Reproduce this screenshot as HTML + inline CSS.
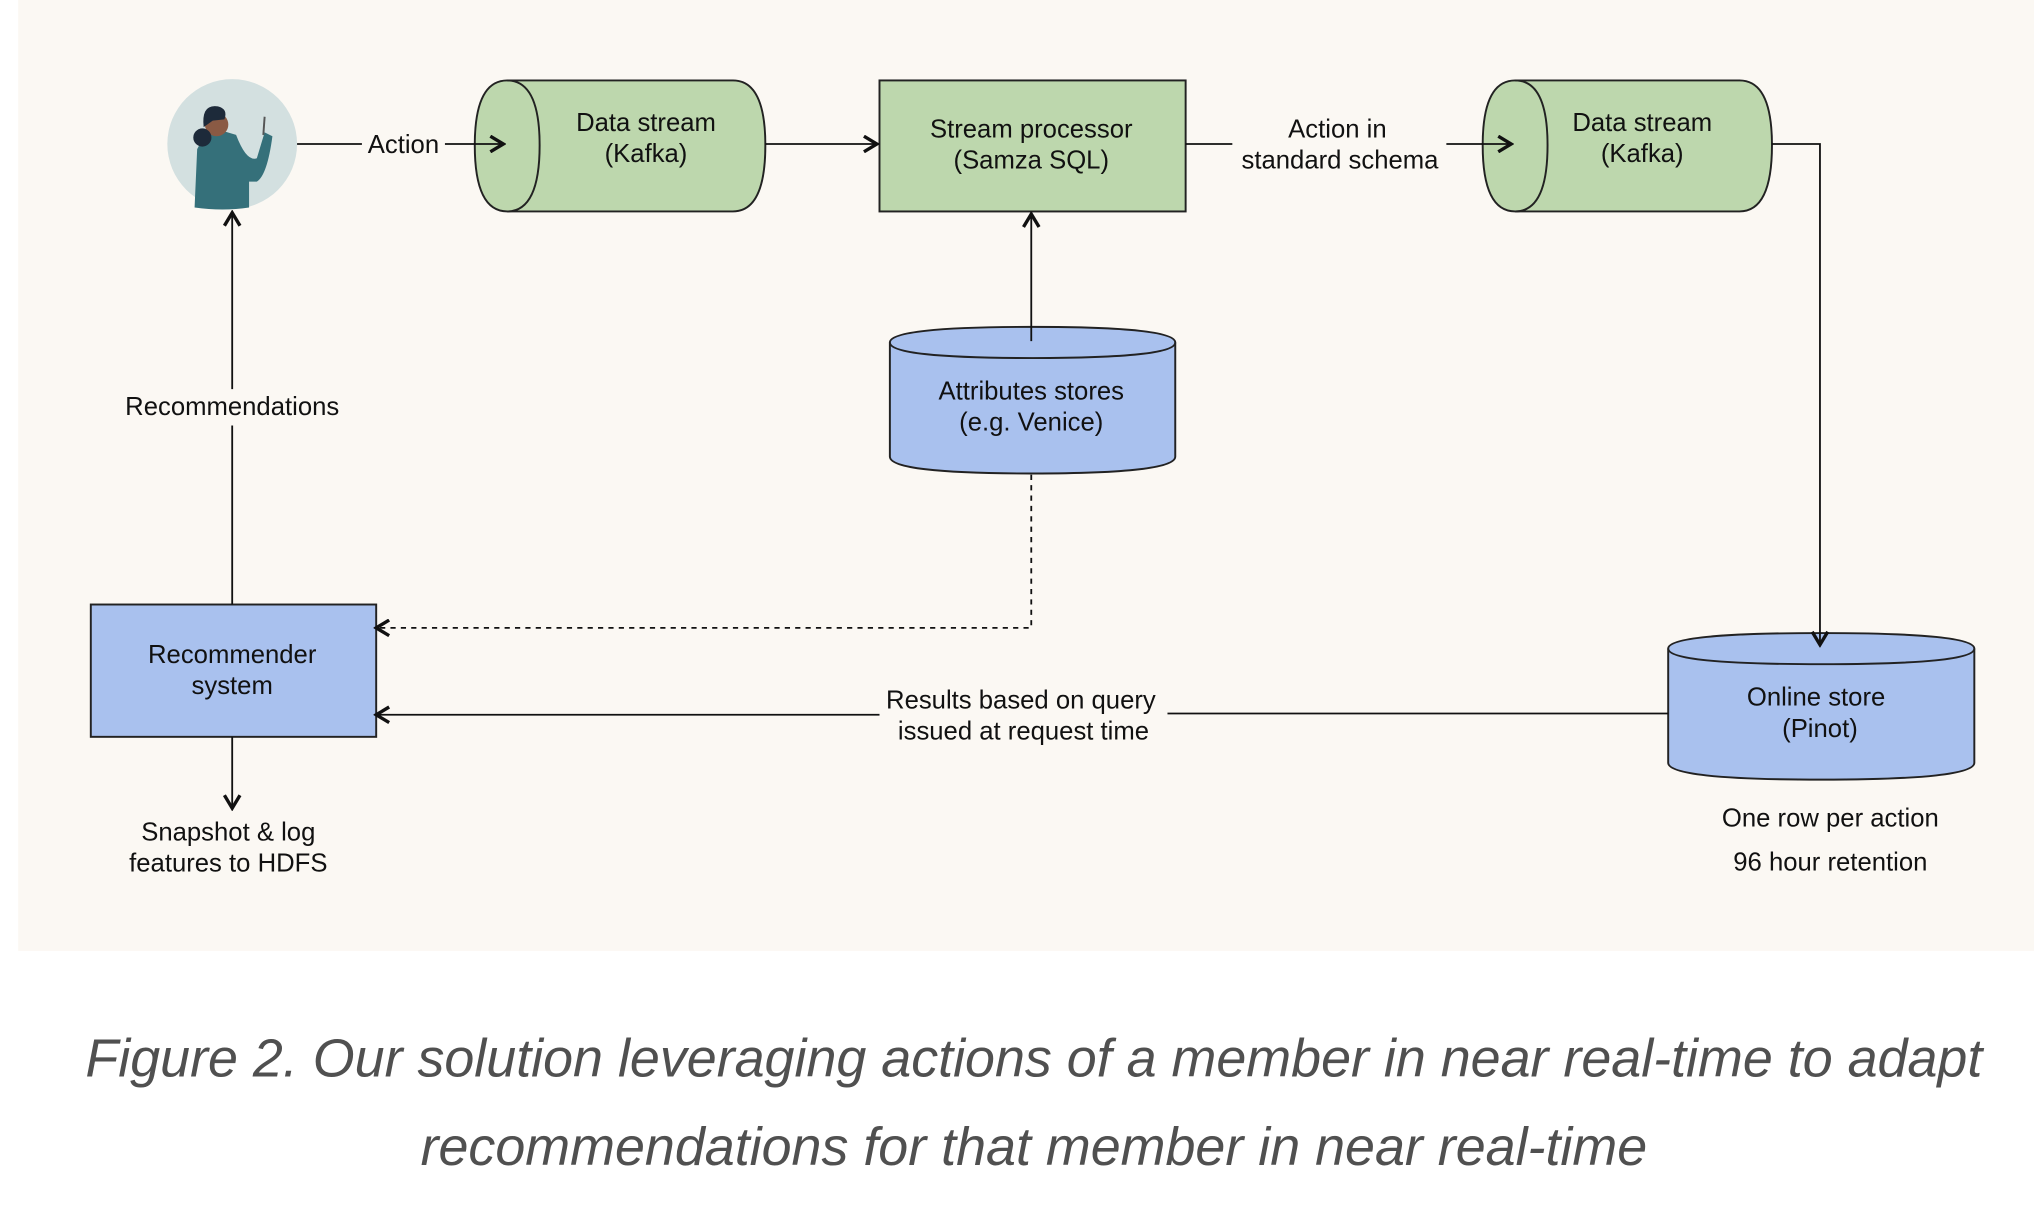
<!DOCTYPE html>
<html><head><meta charset="utf-8"><style>
html,body{margin:0;padding:0;background:#fff;}
svg{display:block;}
text{font-family:"Liberation Sans",Arial,sans-serif;}
</style></head><body>
<svg width="2034" height="1222" viewBox="0 0 1568 942" preserveAspectRatio="none" xmlns="http://www.w3.org/2000/svg">
<defs>
<marker id="a" markerWidth="14" markerHeight="14" refX="12" refY="7" orient="auto" markerUnits="userSpaceOnUse">
<path d="M2,1 L12,7 L2,13" fill="none" stroke="#111" stroke-width="2.6"/>
</marker>
</defs>
<rect x="0" y="0" width="1568" height="942" fill="#fff"/>
<rect x="14" y="0" width="1554" height="733" fill="#fbf8f3"/>

<!-- person -->
<circle cx="179" cy="111" r="50" fill="#d3e0e0"/>
<path d="M150,160 L152,115 Q158,102 172,101 L182,104 Q190,125 198,122 L204,102 L210,105 Q206,135 198,140 L192,140 L192,160 Q172,163 150,160 Z" fill="#35707a"/>
<circle cx="167" cy="96" r="9" fill="#8a5a44"/>
<path d="M157,98 Q155,80 168,82 Q176,84 173,92 L164,93 Z" fill="#1d2a3a"/>
<circle cx="156" cy="106" r="7" fill="#1d2a3a"/>
<line x1="203" y1="104" x2="204" y2="90" stroke="#555" stroke-width="1.5"/>

<g stroke="#222" stroke-width="1.5" fill="#bdd7ad">
<path d="M391,62 L565,62 Q590,62 590,112 Q590,163 565,163 L391,163 Q366,163 366,112 Q366,62 391,62 Z"/>
<path d="M391,62 Q416,62 416,112 Q416,163 391,163" fill="none"/>
<rect x="678" y="62" width="236" height="101"/>
<path d="M1168,62 L1341,62 Q1366,62 1366,112 Q1366,163 1341,163 L1168,163 Q1143,163 1143,112 Q1143,62 1168,62 Z"/>
<path d="M1168,62 Q1193,62 1193,112 Q1193,163 1168,163" fill="none"/>
</g>
<g stroke="#222" stroke-width="1.5" fill="#a9c1ee">
<path d="M686,264 L686,352 Q686,365 796,365 Q906,365 906,352 L906,264 Q906,252 796,252 Q686,252 686,264 Z"/>
<path d="M686,264 Q686,276 796,276 Q906,276 906,264" fill="none"/>
<path d="M1286,500 L1286,588 Q1286,601 1404,601 Q1522,601 1522,588 L1522,500 Q1522,488 1404,488 Q1286,488 1286,500 Z"/>
<path d="M1286,500 Q1286,512 1404,512 Q1522,512 1522,500" fill="none"/>
<rect x="70" y="466" width="220" height="102"/>
</g>

<g stroke="#111" stroke-width="1.4" fill="none">
<line x1="229" y1="111" x2="279" y2="111"/>
<line x1="343" y1="111" x2="388" y2="111" marker-end="url(#a)"/>
<line x1="590" y1="111" x2="676" y2="111" marker-end="url(#a)"/>
<line x1="914" y1="111" x2="950" y2="111"/>
<line x1="1115" y1="111" x2="1165" y2="111" marker-end="url(#a)"/>
<polyline points="1366,111 1403,111 1403,497" marker-end="url(#a)"/>
<line x1="795" y1="263" x2="795" y2="165" marker-end="url(#a)"/>
<polyline points="795,366 795,484 290,484" stroke-dasharray="4,4" marker-end="url(#a)"/>
<line x1="179" y1="466" x2="179" y2="328"/>
<line x1="179" y1="300" x2="179" y2="164" marker-end="url(#a)"/>
<line x1="179" y1="568" x2="179" y2="623" marker-end="url(#a)"/>
<line x1="1286" y1="550" x2="900" y2="550"/>
<line x1="678" y1="551" x2="290" y2="551" marker-end="url(#a)"/>
</g>

<g font-size="19.8" fill="#111" text-anchor="middle">
<text x="311" y="118">Action</text>
<text x="498" y="101">Data stream</text><text x="498" y="125">(Kafka)</text>
<text x="795" y="106">Stream processor</text><text x="795" y="130">(Samza SQL)</text>
<text x="1031" y="106">Action in</text><text x="1033" y="130">standard schema</text>
<text x="1266" y="101">Data stream</text><text x="1266" y="125">(Kafka)</text>
<text x="179" y="320">Recommendations</text>
<text x="795" y="308">Attributes stores</text><text x="795" y="332">(e.g. Venice)</text>
<text x="179" y="511">Recommender</text><text x="179" y="535">system</text>
<text x="787" y="546">Results based on query</text><text x="789" y="570">issued at request time</text>
<text x="1400" y="544">Online store</text><text x="1403" y="568">(Pinot)</text>
<text x="176" y="648">Snapshot &amp; log</text><text x="176" y="672">features to HDFS</text>
<text x="1411" y="637">One row per action</text><text x="1411" y="671">96 hour retention</text>
</g>
<g font-size="41.5" fill="#505050" text-anchor="middle" font-style="italic">
<text x="797" y="830">Figure 2. Our solution leveraging actions of a member in near real-time to adapt</text>
<text x="797" y="898">recommendations for that member in near real-time</text>
</g>
</svg>
</body></html>
